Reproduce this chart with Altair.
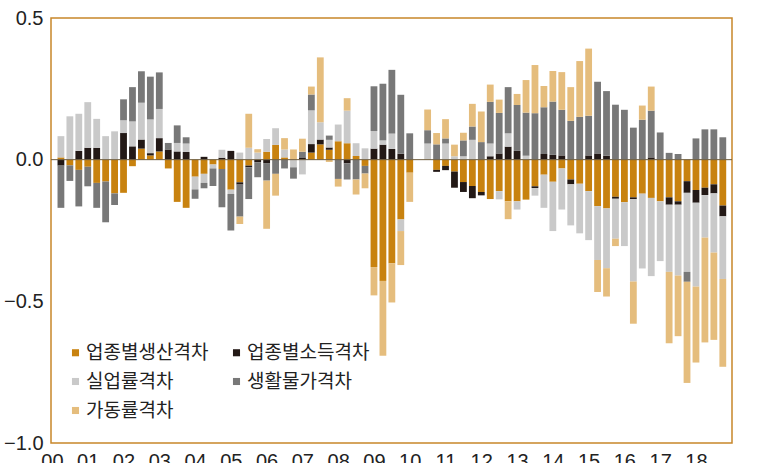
import json
import altair as alt
import pandas as pd

# ---------------- data ----------------
YEAR_LABELS = ["00", "01", "02", "03", "04", "05", "06", "07", "08", "09",
               "10", "11", "12", "13", "14", "15", "16", "17", "18"]
QUARTERS = list(range(75))  # 2000Q1 ...

SERIES = ["업종별생산격차", "업종별소득격차", "실업률격차", "생활물가격차", "가동률격차"]
COLORS = ["#C8820F", "#231916", "#C9C9C9", "#787878", "#E5BD7D"]

prod_gap = [0.008, -0.020, -0.036, -0.025, -0.082, -0.077, -0.119, -0.117, -0.023, 0.039,
            0.015, 0.029, -0.031, -0.149, -0.170, -0.060, -0.050, -0.017, -0.033, -0.106,
            -0.080, -0.021, 0.0, 0.028, 0.052, 0.008, 0.0, 0.0, 0.025, 0.054,
            0.035, 0.065, 0.058, 0.013, -0.022, -0.379, -0.428, -0.366, -0.211, -0.046,
            0.0, 0.0, -0.036, -0.022, -0.042, -0.079, -0.093, -0.114, -0.139, -0.111,
            -0.147, -0.147, -0.141, -0.094, -0.053, -0.078, -0.031, -0.070, -0.085, -0.111,
            -0.164, -0.172, -0.131, -0.150, -0.133, -0.120, -0.135, -0.147, -0.133, -0.147,
            -0.076, -0.107, -0.099, -0.087, -0.162]
income_gap = [-0.021, 0.0, 0.031, 0.042, 0.042, 0.0, 0.0, 0.094, 0.047, 0.032,
              0.008, 0.047, 0.036, 0.029, 0.027, 0.0, 0.010, 0.0, 0.007, 0.031,
              -0.008, -0.006, -0.009, -0.012, 0.0, 0.0, 0.0, 0.008, 0.030, 0.017,
              0.008, 0.0, -0.013, 0.0, 0.0, 0.039, 0.053, 0.038, 0.021, 0.0,
              0.0, 0.0, -0.007, -0.015, -0.057, -0.035, -0.043, -0.012, 0.012, 0.022,
              0.046, 0.031, 0.0, -0.006, 0.020, 0.017, 0.015, -0.017, 0.0, 0.015,
              0.022, 0.014, -0.007, 0.0, -0.006, 0.0, 0.008, 0.0, -0.026, -0.012,
              -0.041, -0.045, -0.026, -0.032, -0.038]
unemp_gap = [0.075, 0.153, 0.131, 0.161, 0.102, 0.083, 0.100, 0.045, 0.088, 0.130,
             0.119, 0.103, 0.0, 0.030, 0.030, -0.045, -0.032, -0.014, 0.028, -0.015,
             0.025, 0.042, 0.025, 0.045, 0.059, 0.028, -0.027, -0.052, 0.119, 0.061,
             0.027, 0.059, 0.115, 0.045, 0.040, 0.062, 0.015, 0.054, -0.041, 0.0,
             0.0, 0.057, 0.0, 0.057, 0.012, 0.012, 0.070, 0.0, 0.045, -0.029,
             0.047, -0.029, 0.014, -0.027, -0.117, -0.174, -0.145, -0.145, -0.175, -0.173,
             -0.190, -0.211, -0.141, -0.155, -0.291, -0.264, -0.276, -0.211, -0.237, -0.250,
             -0.279, -0.296, -0.150, -0.209, -0.221]
price_gap = [-0.149, -0.055, -0.129, -0.069, -0.088, -0.144, -0.041, 0.074, 0.121, 0.111,
             0.151, 0.129, 0.023, 0.062, 0.022, -0.033, -0.019, -0.062, -0.135, -0.129,
             -0.113, -0.112, -0.053, -0.062, -0.050, -0.031, -0.040, 0.020, 0.056, 0.0,
             0.015, -0.068, -0.057, -0.070, -0.027, 0.158, 0.200, 0.225, 0.208, 0.093,
             0.0, 0.047, 0.054, 0.018, 0.0, 0.056, 0.047, 0.062, 0.147, 0.143,
             0.163, 0.162, 0.152, 0.164, 0.165, 0.188, 0.161, 0.137, 0.151, 0.140,
             0.253, 0.228, 0.194, 0.176, 0.113, 0.141, 0.165, 0.096, 0.024, 0.020,
             -0.035, 0.075, 0.107, 0.107, 0.079]
util_gap = [0.0, 0.0, 0.0, 0.0, 0.0, 0.0, 0.0, 0.0, 0.0, 0.0,
            0.0, 0.0, 0.0, 0.0, 0.0, 0.0, 0.0, 0.0, 0.0, 0.0,
            -0.026, 0.120, 0.012, -0.170, -0.077, 0.040, 0.036, 0.046, 0.028, 0.229,
            -0.008, -0.027, 0.044, -0.053, -0.052, -0.100, -0.264, -0.138, -0.120, -0.103,
            0.0, 0.073, 0.040, 0.068, 0.041, 0.027, 0.080, 0.108, 0.061, 0.047,
            -0.063, 0.039, 0.115, 0.170, 0.075, 0.108, 0.133, 0.119, 0.197, 0.237,
            -0.113, -0.100, -0.026, 0.0, -0.149, 0.050, 0.085, 0.0, -0.252, -0.214,
            -0.357, -0.268, -0.370, -0.308, -0.310]

Y_TICKS = [-1.0, -0.5, 0.0, 0.5]

# ---------------- table ----------------
rows = []
for k, (name, vals) in enumerate(zip(SERIES, [prod_gap, income_gap, unemp_gap, price_gap, util_gap])):
    for q, v in zip(QUARTERS, vals):
        rows.append({"q": q, "series": name, "ord": k, "value": v})
df = pd.DataFrame(rows)

label_expr = json.dumps(YEAR_LABELS) + "[floor(datum.value / 4)]"

AXIS_FONT = "Liberation Sans"
KR_FONT = "Noto Sans CJK KR"

bars = alt.Chart(df).mark_bar(size=6.8).encode(
    x=alt.X("q:Q",
            scale=alt.Scale(domain=[-0.55, 74.47], nice=False, zero=False),
            axis=alt.Axis(values=[4 * i for i in range(len(YEAR_LABELS))],
                          labelExpr=label_expr, ticks=False, domain=False, grid=False,
                          title=None, labelFontSize=20, labelFont=AXIS_FONT,
                          labelColor="#222222", labelOffset=-9, labelPadding=8,
                          labelFlush=False, labelOverlap=False)),
    y=alt.Y("value:Q", stack="zero",
            scale=alt.Scale(domain=[-1.0, 0.5], nice=False, zero=False),
            axis=alt.Axis(values=Y_TICKS, format=".1f", ticks=False, domain=False,
                          grid=False, title=None, labelFontSize=20, labelFont=AXIS_FONT,
                          labelColor="#222222", labelPadding=8)),
    color=alt.Color("series:N",
                    scale=alt.Scale(domain=SERIES, range=COLORS),
                    legend=alt.Legend(title=None, orient="none", legendX=15, legendY=325,
                                      direction="horizontal", columns=2,
                                      columnPadding=18, rowPadding=9,
                                      symbolType="square", symbolSize=50,
                                      symbolStrokeWidth=0, labelFont=KR_FONT,
                                      labelFontSize=19, labelColor="#222222",
                                      labelOffset=1, labelLimit=300)),
    order=alt.Order("ord:Q", sort="ascending"),
)

zero_rule = alt.Chart(pd.DataFrame({"zero": [0.0]})).mark_rule(
    color="#6E5C3C", strokeWidth=1
).encode(y="zero:Q")

chart = alt.layer(bars, zero_rule).properties(
    width=681, height=425,
    padding={"left": 51, "top": 18, "right": 38, "bottom": 20},
    autosize=alt.AutoSizeParams(type="none"),
    background="white",
).configure_view(stroke="#C8862A", strokeWidth=1.5)

chart.save("out.html", embed_options={"renderer": "svg", "actions": False})
